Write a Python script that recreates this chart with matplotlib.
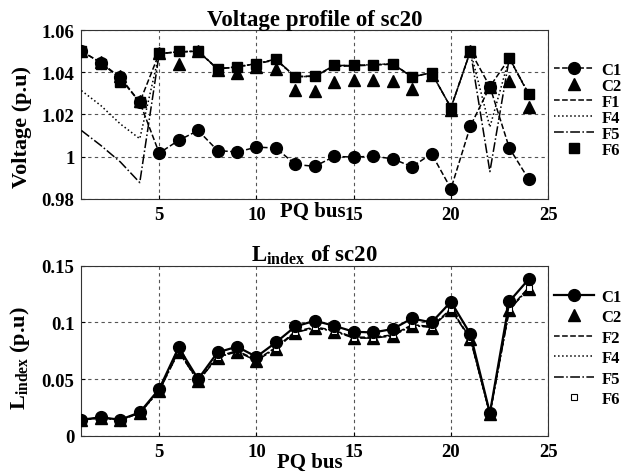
import matplotlib
matplotlib.use('Agg')
import matplotlib.pyplot as plt
import numpy as np

plt.rcParams.update({
    'font.family': 'Liberation Serif', 'font.weight': 'bold', 'font.size': 13,
    'mathtext.fontset': 'custom', 'mathtext.rm': 'Liberation Serif:bold',
    'mathtext.bf': 'Liberation Serif:bold', 'mathtext.it': 'Liberation Serif:bold',
    'xtick.direction': 'in', 'ytick.direction': 'in',
})

bus = np.arange(1, 25)

# voltage profile (top)
v_c1 = [1.050, 1.0445, 1.0376, 1.0258, 1.0017, 1.0077, 1.0124, 1.0029, 1.0022, 1.0045, 1.0041, 0.9963,
        0.9954, 1.0001, 0.9998, 1.0002, 0.9990, 0.9952, 1.0014, 0.9848, 1.0145, 1.0332, 1.0041, 0.9892]
v_c2 = [1.050, 1.0450, 1.0380, 1.0262, 1.0490, 1.0441, 1.0500, 1.0410, 1.0394, 1.0425, 1.0416, 1.0318,
        1.0310, 1.0353, 1.0362, 1.0365, 1.0358, 1.0321, 1.0385, 1.0222, 1.0500, 1.0330, 1.0357, 1.0234]
v_f1 = [1.050, 1.0445, 1.0370, 1.0258, 1.0490, 1.0495, 1.0500, 1.0414, 1.0427, 1.0440, 1.0458, 1.0380,
        1.0382, 1.0428, 1.0430, 1.0434, 1.0438, 1.0380, 1.0397, 1.0232, 1.0500, 1.0332, 1.0466, 1.0295]
v_f4 = [1.0313, 1.0242, 1.0155, 1.0085, 1.0488, 1.0497, 1.0500, 1.0416, 1.0424, 1.0441, 1.0460, 1.0378,
        1.0380, 1.0431, 1.0432, 1.0436, 1.0440, 1.0378, 1.0397, 1.0232, 1.0500, 1.0140, 1.0468, 1.0295]
v_f5 = [1.0124, 1.0053, 0.9975, 0.9877, 1.0488, 1.0497, 1.0500, 1.0416, 1.0425, 1.0441, 1.0462, 1.0378,
        1.0381, 1.0432, 1.0432, 1.0436, 1.0440, 1.0378, 1.0397, 1.0232, 1.0500, 0.9929, 1.0468, 1.0295]
v_f6 = [1.050, 1.0440, 1.0354, 1.0258, 1.0492, 1.0499, 1.0500, 1.0416, 1.0425, 1.0441, 1.0463, 1.0378,
        1.0381, 1.0432, 1.0432, 1.0436, 1.0440, 1.0378, 1.0397, 1.0232, 1.0500, 1.0332, 1.0468, 1.0295]

# L index (bottom)
l_c1 = [0.0141, 0.0162, 0.0141, 0.0206, 0.0412, 0.0780, 0.0500, 0.0736, 0.0786, 0.0697, 0.0824, 0.0965,
        0.1015, 0.0971, 0.0918, 0.0912, 0.0942, 0.1036, 0.1000, 0.1183, 0.0897, 0.0200, 0.1186, 0.1383]
l_c2 = [0.0138, 0.0158, 0.0138, 0.0200, 0.0395, 0.0740, 0.0480, 0.0690, 0.0740, 0.0660, 0.0770, 0.0910,
        0.0950, 0.0920, 0.0860, 0.0860, 0.0880, 0.0970, 0.0955, 0.1110, 0.0850, 0.0190, 0.1110, 0.1300]
l_f2 = [0.0140, 0.0160, 0.0140, 0.0203, 0.0400, 0.0750, 0.0485, 0.0700, 0.0750, 0.0670, 0.0780, 0.0920,
        0.0960, 0.0930, 0.0870, 0.0870, 0.0890, 0.0980, 0.0965, 0.1120, 0.0860, 0.0195, 0.1120, 0.1310]
l_f4 = [0.0139, 0.0159, 0.0139, 0.0201, 0.0398, 0.0745, 0.0482, 0.0695, 0.0745, 0.0665, 0.0775, 0.0915,
        0.0955, 0.0925, 0.0865, 0.0865, 0.0885, 0.0975, 0.0960, 0.1115, 0.0855, 0.0192, 0.1115, 0.1305]
l_f5 = [0.0138, 0.0158, 0.0138, 0.0200, 0.0396, 0.0742, 0.0481, 0.0692, 0.0742, 0.0662, 0.0772, 0.0912,
        0.0952, 0.0922, 0.0862, 0.0862, 0.0882, 0.0972, 0.0957, 0.1112, 0.0852, 0.0191, 0.1112, 0.1302]
l_f6 = [0.0140, 0.0160, 0.0140, 0.0202, 0.0398, 0.0745, 0.0483, 0.0697, 0.0746, 0.0666, 0.0776, 0.0916,
        0.0956, 0.0926, 0.0866, 0.0866, 0.0886, 0.0976, 0.0961, 0.1116, 0.0856, 0.0193, 0.1116, 0.1306]

fig = plt.figure(figsize=(6.36, 4.77), dpi=100)
ax1 = fig.add_axes([0.128, 0.581, 0.734, 0.354])
ax2 = fig.add_axes([0.128, 0.0845, 0.734, 0.356])

def style(ax):
    ax.set_xlim(1, 25)
    ax.set_xticks([5, 10, 15, 20, 25])
    ax.grid(True, linestyle=(0, (3, 3)), color='#555555', linewidth=0.8)
    ax.tick_params(length=3, width=0.8, labelsize=13.5, pad=5)
    for s in ax.spines.values():
        s.set_linewidth(0.8)
        s.set_color('#333333')
    ax.yaxis.set_major_formatter(matplotlib.ticker.FormatStrFormatter('%g'))

def legend(ax, names, anchor, spacing):
    h, l = ax.get_legend_handles_labels()
    order = [l.index(n) for n in names]
    ax.legend([h[i] for i in order], [l[i] for i in order], loc='upper left',
              bbox_to_anchor=anchor, frameon=False, fontsize=12, labelspacing=spacing,
              handlelength=2.4, handletextpad=0.45, borderaxespad=0.0, borderpad=0.2)

k = 'black'
ax1.plot(bus, v_f1, '--', color=k, lw=1.1, label='F1', zorder=3)
ax1.plot(bus, v_f4, ':', color=k, lw=1.1, label='F4', zorder=3)
ax1.plot(bus, v_f5, '-.', color=k, lw=1.1, label='F5', zorder=3)
ax1.plot(bus, v_c1, '--', color=k, lw=1.1, marker='o', ms=8.5, label='C1', zorder=4)
ax1.plot(bus, v_c2, ls='none', color=k, marker='^', ms=8.5, label='C2', zorder=4)
ax1.plot(bus, v_f6, ls='none', color=k, marker='s', ms=6.5, label='F6', zorder=5)
style(ax1)
ax1.set_ylim(0.98, 1.06)
ax1.set_yticks([0.98, 1.0, 1.02, 1.04, 1.06])
ax1.set_title('Voltage profile of sc20', fontsize=16.5, fontweight='bold', pad=1)
legend(ax1, ['C1', 'C2', 'F1', 'F4', 'F5', 'F6'], (1.005, 0.83), 0.0)

ax2.plot(bus, l_f2, '--', color=k, lw=1.1, label='F2', zorder=3)
ax2.plot(bus, l_f4, ':', color=k, lw=1.1, label='F4', zorder=3)
ax2.plot(bus, l_f5, '-.', color=k, lw=1.1, label='F5', zorder=3)
ax2.plot(bus, l_c2, ls='none', color=k, marker='^', ms=8.5, label='C2', zorder=4)
ax2.plot(bus, l_f6, ls='none', color=k, marker='s', ms=5, mfc='white', mew=0.8, label='F6', zorder=4)
ax2.plot(bus, l_c1, '-', color=k, lw=1.6, marker='o', ms=8.5, label='C1', zorder=5)
style(ax2)
ax2.set_ylim(0, 0.15)
ax2.set_yticks([0, 0.05, 0.1, 0.15])
ax2.set_title(r'$\mathbf{L}_{\mathbf{index}}$ of sc20', fontsize=16.5, fontweight='bold', pad=1)
legend(ax2, ['C1', 'C2', 'F2', 'F4', 'F5', 'F6'], (1.005, 0.885), 0.27)

fig.text(313 / 636, 1 - 212 / 477, 'PQ bus', ha='center', va='center', fontsize=15, fontweight='bold')
fig.text(310 / 636, 1 - 463 / 477, 'PQ bus', ha='center', va='center', fontsize=15, fontweight='bold')
fig.text(22 / 636, 1 - 127 / 477, 'Voltage (p.u)', rotation=90, ha='center', va='center',
         fontsize=16, fontweight='bold')
fig.text(20 / 636, 1 - 358 / 477, r'$\mathbf{L}_{\mathbf{index}}$ (p.u)', rotation=90, ha='center',
         va='center', fontsize=16, fontweight='bold')

fig.savefig('out.png', dpi=100)
